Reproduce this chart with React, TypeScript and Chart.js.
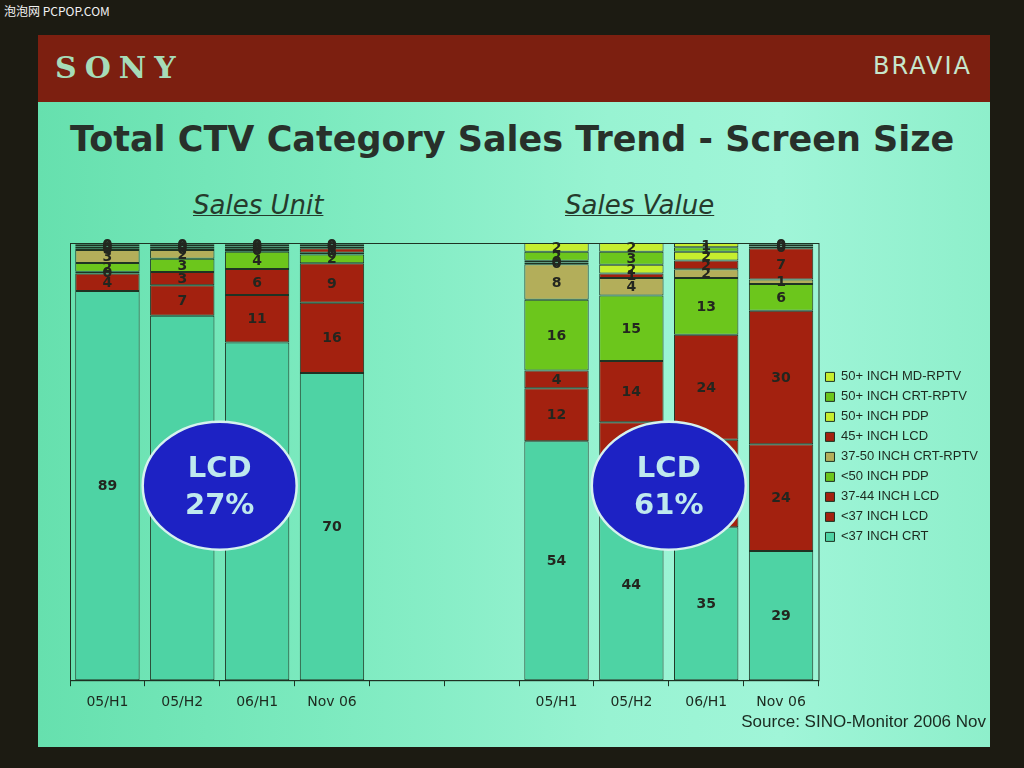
import { useEffect, useRef } from "react";
import { Chart, registerables } from "chart.js";

Chart.register(...registerables);

// Two 100% stacked groups (Sales Unit | Sales Value) share one axis, with two empty slots between.
const categories = ["05/H1", "05/H2", "06/H1", "Nov 06", "", "", "05/H1", "05/H2", "06/H1", "Nov 06"];

// bottom → top stack order
const crt37 = [89, 83, 78, 70, null, null, 54, 44, 35, 29];
const lcd37 = [4, 7, 11, 16, null, null, 12, 15, 20, 24];
const lcd3744 = [0.4, 3, 6, 9, null, null, 4, 14, 24, 30];
const pdp50 = [2, 3, 4, 2, null, null, 16, 15, 13, 6];
const crtRptv3750 = [3, 2, 0.4, 0.4, null, null, 8, 4, 2, 1];
const lcd45 = [0.4, 0.4, 0.4, 1, null, null, 0.4, 1, 2, 7];
const pdp50plus = [0.4, 0.4, 0.4, 0.4, null, null, 0.4, 2, 2, 0.4];
const crtRptv50 = [0.4, 0.4, 0.4, 0.4, null, null, 2, 3, 1, 0.4];
const mdRptv50 = [0.4, 0.4, 0.4, 0.4, null, null, 2, 2, 1, 0.4];

const seriesNames = [
  "<37 INCH CRT",
  "<37 INCH LCD",
  "37-44 INCH LCD",
  "<50 INCH PDP",
  "37-50 INCH CRT-RPTV",
  "45+ INCH LCD",
  "50+ INCH PDP",
  "50+ INCH CRT-RPTV",
  "50+ INCH MD-RPTV",
];
const seriesValues = [crt37, lcd37, lcd3744, pdp50, crtRptv3750, lcd45, pdp50plus, crtRptv50, mdRptv50];

const TEAL = "#4ed3a4";
const RED = "#a3210f";
const GREEN = "#6cc61c";
const OLIVE = "#b3ae5a";
const LIME = "#c6ee2e";
const seriesColors = [TEAL, RED, RED, GREEN, OLIVE, RED, LIME, GREEN, LIME];

// LCD share callouts: [sales unit, sales value]
const lcdShares = ["27%", "61%"];
const calloutSlot = [1, 7];

const INK = "#1e3323";

const totals = categories.map((_, i) =>
  seriesValues.reduce((s, arr) => s + (arr[i] ?? 0), 0)
);

const segmentLabels = {
  id: "segmentLabels",
  beforeDatasetsDraw(chart: any) {
    const { ctx, chartArea } = chart;
    ctx.save();
    ctx.strokeStyle = INK;
    ctx.lineWidth = 1;
    ctx.strokeRect(chartArea.left + 0.5, chartArea.top + 0.5, chartArea.width, chartArea.height);
    ctx.restore();
  },
  afterDatasetsDraw(chart: any) {
    const { ctx } = chart;
    ctx.save();
    ctx.font = "bold 14px 'DejaVu Sans', sans-serif";
    ctx.fillStyle = "#23261f";
    ctx.textAlign = "center";
    ctx.textBaseline = "middle";
    seriesValues.forEach((arr, di) => {
      const meta = chart.getDatasetMeta(di);
      meta.data.forEach((el: any, i: number) => {
        const raw = arr[i];
        if (raw == null) return;
        const { x, y, base } = el.getProps(["x", "y", "base"], true);
        ctx.fillText(String(Math.round(raw)), x, (y + base) / 2 + 1);
      });
    });

    const xs = chart.scales.x;
    const ys = chart.scales.y;
    lcdShares.forEach((share, k) => {
      const i = calloutSlot[k];
      const cx = (xs.getPixelForValue(i) + xs.getPixelForValue(i + 1)) / 2;
      const cy = ys.getPixelForValue(44.5);
      ctx.beginPath();
      ctx.ellipse(cx, cy, 77, 64, 0, 0, Math.PI * 2);
      ctx.fillStyle = "#1d22c4";
      ctx.fill();
      ctx.lineWidth = 2.5;
      ctx.strokeStyle = "#d6f2ee";
      ctx.stroke();
      ctx.fillStyle = "#bfe9ee";
      ctx.font = "bold 29px 'DejaVu Sans', sans-serif";
      ctx.fillText("LCD", cx, cy - 16);
      ctx.fillText(share, cx, cy + 21);
    });
    ctx.restore();
  },
};

export default function App() {
  const canvasRef = useRef<HTMLCanvasElement | null>(null);
  const chartRef = useRef<Chart | null>(null);

  useEffect(() => {
    const canvas = canvasRef.current;
    if (!canvas) return;
    chartRef.current?.destroy();

    chartRef.current = new Chart(canvas, {
      type: "bar",
      data: {
        labels: categories,
        datasets: seriesValues.map((arr, di) => ({
          label: seriesNames[di],
          data: arr.map((v, i) => (v == null ? null : (v / totals[i]) * 100)),
          backgroundColor: seriesColors[di],
          borderColor: INK,
          borderWidth: 1,
          borderSkipped: false,
          barPercentage: 0.86,
          categoryPercentage: 1,
        })),
      },
      options: {
        animation: false,
        responsive: false,
        layout: { padding: { left: 30, top: 63, right: 4, bottom: 6 } },
        plugins: {
          legend: {
            position: "right",
            reverse: true,
            align: "start",
            // empty title used as a spacer so the key sits level with the callouts
            title: { display: true, text: "", padding: { top: 106, bottom: 0 } },
            labels: {
              boxWidth: 9,
              boxHeight: 9,
              padding: 7,
              color: "#1d2a1f",
              font: { size: 13, family: "'Liberation Sans', sans-serif" },
            },
          },
          tooltip: { enabled: false },
        },
        scales: {
          x: {
            stacked: true,
            grid: { display: true, drawOnChartArea: false, tickLength: 6, color: INK },
            border: { display: true, color: INK },
            ticks: {
              color: "#1d2a1f",
              padding: 8,
              font: { size: 14, family: "'DejaVu Sans', sans-serif" },
            },
          },
          y: { stacked: true, display: false, min: 0, max: 100 },
        },
      },
      plugins: [segmentLabels],
    });

    return () => {
      chartRef.current?.destroy();
      chartRef.current = null;
    };
  }, []);

  return (
    <div
      style={{
        position: "fixed",
        left: 0,
        top: 0,
        width: 1024,
        height: 768,
        background: "#1c1b12",
        overflow: "hidden",
        fontFamily: "'DejaVu Sans', sans-serif",
      }}
    >
      <div
        style={{
          position: "absolute",
          left: 4,
          top: 2,
          color: "#f2f2f2",
          fontSize: 12,
          fontFamily: "'Noto Sans CJK SC', 'Liberation Sans', sans-serif",
        }}
      >
        泡泡网 PCPOP.COM
      </div>
      {/* slide */}
      <div
        style={{
          position: "absolute",
          left: 38,
          top: 35,
          width: 952,
          height: 712,
          background:
            "linear-gradient(90deg, #66e0ae 0%, #7ceabf 30%, #98f3d2 60%, #a0f5d8 78%, #8eefcb 100%)",
        }}
      >
        <div
          style={{
            position: "absolute",
            left: 0,
            top: 0,
            width: 952,
            height: 67,
            background: "#7c1f10",
          }}
        >
          <div
            style={{
              position: "absolute",
              left: 17,
              top: 15,
              color: "#a6dcb8",
              fontFamily: "'DejaVu Serif', 'Liberation Serif', serif",
              fontWeight: "bold",
              fontSize: 30,
              letterSpacing: 8,
            }}
          >
            SONY
          </div>
          <div
            style={{
              position: "absolute",
              right: 18,
              top: 17,
              color: "#c6e6cc",
              fontFamily: "'DejaVu Sans', sans-serif",
              fontSize: 24,
              letterSpacing: 2,
            }}
          >
            BRAVIA
          </div>
        </div>
        <div
          style={{
            position: "absolute",
            left: 32,
            top: 84,
            color: "#28302a",
            fontWeight: "bold",
            fontSize: 35,
            letterSpacing: 0,
            whiteSpace: "nowrap",
          }}
        >
          Total CTV Category Sales Trend - Screen Size
        </div>
      </div>
      <div
        style={{
          position: "absolute",
          left: 193,
          top: 190,
          color: "#263a2c",
          fontStyle: "italic",
          fontSize: 26,
          textDecoration: "underline",
          textDecorationThickness: 1,
        }}
      >
        Sales Unit
      </div>
      <div
        style={{
          position: "absolute",
          left: 565,
          top: 190,
          color: "#263a2c",
          fontStyle: "italic",
          fontSize: 26,
          textDecoration: "underline",
          textDecorationThickness: 1,
        }}
      >
        Sales Value
      </div>
      <canvas
        ref={canvasRef}
        width={952}
        height={545}
        style={{ position: "absolute", left: 40, top: 180 }}
      />
      <div
        style={{
          position: "absolute",
          right: 38,
          top: 712,
          color: "#1a2a20",
          fontSize: 17,
          fontFamily: "'Liberation Sans Narrow', 'Liberation Sans', sans-serif",
        }}
      >
        Source: SINO-Monitor 2006 Nov
      </div>
    </div>
  );
}
